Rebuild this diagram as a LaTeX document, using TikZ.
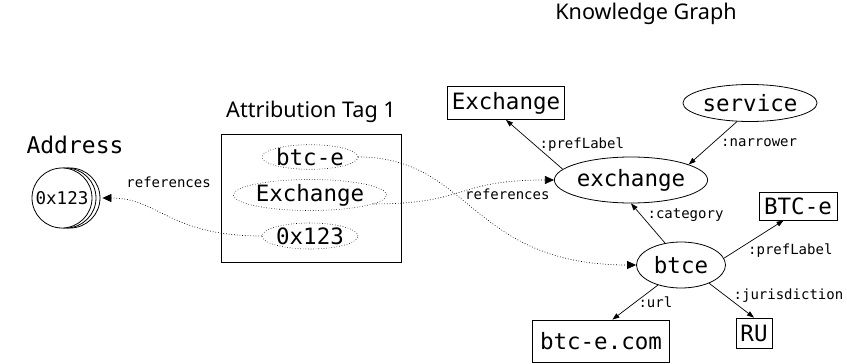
\documentclass[tikz,border=0pt]{standalone}
\usepackage{fontspec}
\setmainfont{Noto Sans}
\newfontfamily\monof{DejaVu Sans Mono}
\usetikzlibrary{arrows.meta,shapes.geometric,shadows}
\begin{document}
\begin{tikzpicture}[x=1pt,y=-1pt,
  mono/.style={font=\monof\fontsize{22.5}{24}\selectfont},
  lbl/.style={font=\monof\fontsize{14}{15}\selectfont, inner sep=0pt},
  box/.style={draw, line width=0.8pt, rectangle, inner sep=0pt, mono},
  ell/.style={draw, line width=0.8pt, ellipse, inner sep=0pt, mono},
  dell/.style={draw, dotted, line width=0.6pt, ellipse, inner sep=0pt, mono},
  rel/.style={-{Triangle[length=7pt,width=5pt]}, line width=0.7pt},
  ref/.style={dotted, line width=0.7pt, -{Triangle[length=9pt,width=8pt]}},
  ttl/.style={font=\fontsize{21.6}{23}\selectfont, inner sep=0pt}
]
\useasboundingbox (0,0) rectangle (847,364);

% titles
\node[ttl] (kgtitle) at (646,14) {Knowledge Graph};
\node[ttl] (tagtitle) at (311,112) {Attribution Tag 1};
\node[font=\monof\fontsize{23}{24}\selectfont, inner sep=0pt] (addrtitle) at (75,145) {Address};

% address
\node[circle, draw, line width=0.8pt, minimum size=60pt, inner sep=0pt, fill=white,
  double copy shadow={shadow xshift=4pt, shadow yshift=0pt, draw, fill=white, line width=0.8pt},
  font=\monof\fontsize{17.5}{18}\selectfont] (addr) at (62,198) {0x123};

% attribution tag
\node[draw, line width=0.8pt, minimum width=180pt, minimum height=128pt, inner sep=0pt] (tag) at (311,198) {};
\node[dell, minimum width=94pt, minimum height=24pt] (tagb) at (310,157) {btc-e};
\node[dell, minimum width=132pt, minimum height=27pt] (tage) at (310,195) {Exchange};
\node[dell, minimum width=95pt, minimum height=26pt] (tagx) at (310,236) {0x123};

% knowledge graph
\node[box, minimum width=117pt, minimum height=33pt] (exbox) at (506,103) {Exchange};
\node[ell, minimum width=129pt, minimum height=37pt] (service) at (750,103) {service};
\node[ell, minimum width=134pt, minimum height=46pt] (exchange) at (631,180) {exchange};
\node[box, minimum width=78pt, minimum height=28pt] (btcebox) at (798,206) {BTC-e};
\node[ell, minimum width=89pt, minimum height=46pt] (btce) at (681,265) {btce};
\node[box, minimum width=137pt, minimum height=42pt] (btccom) at (601,341) {btc-e.com};
\node[box, minimum width=36pt, minimum height=30pt] (ru) at (754,333) {RU};

% solid relations
\draw[rel] (exchange.171) -- node[lbl, pos=.5, anchor=west, xshift=5pt] {:prefLabel} (exbox.south);
\draw[rel] (service.235) -- node[lbl, pos=.5, anchor=west, xshift=8pt] {:narrower} (exchange.15);
\draw[rel] (btce.126) -- node[lbl, pos=.7, anchor=west, xshift=6pt] {:category} (exchange.south);
\draw[rel] (btce.9) -- node[lbl, pos=.4, anchor=north west, xshift=0pt] {:prefLabel} (btcebox.225);
\draw[rel] (btce.221) -- node[lbl, pos=.5, anchor=west, xshift=3pt] {:url} (btccom.62);
\draw[rel] (btce.327) -- node[lbl, pos=.45, anchor=west, xshift=4pt, yshift=3pt] {:jurisdiction} (ru.north);

% references
\draw[ref] (tagx.west) .. controls +(-93,0) and +(57,0) .. node[lbl, pos=.5, yshift=35pt] {references} ([xshift=10pt]addr.east);
\draw[ref] (tagb.east) .. controls +(113,0) and +(-166,0) .. (btce.west);
\draw[ref] (tage.-8) .. controls +(95,0) and +(-100,0) .. node[lbl, pos=.5, anchor=west, xshift=3pt, yshift=-2pt] {references} (exchange.west);
\end{tikzpicture}
\end{document}
